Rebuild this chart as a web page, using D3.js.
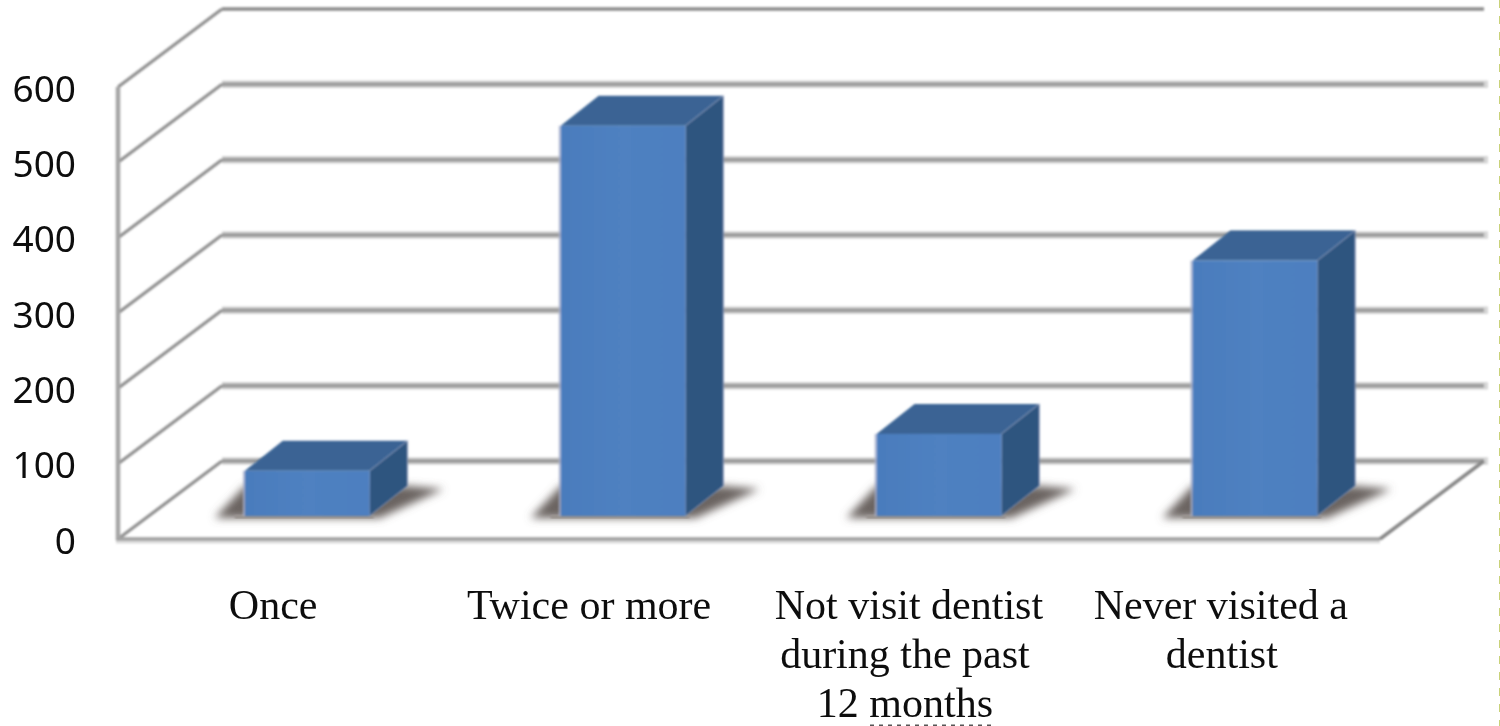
<!DOCTYPE html>
<html><head><meta charset="utf-8">
<script src="https://cdn.jsdelivr.net/npm/d3@7"></script>
<style>html,body{margin:0;padding:0;background:#fff}svg{display:block}</style>
</head><body><svg id="c" width="1500" height="726"></svg>
<script>
const categories = ["Once","Twice or more","Not visit dentist|during the past|12 months","Never visited a|dentist"];
const values = [60,518,109,339];
const ticks = [0,100,200,300,400,500,600];
const labelShift = [[-34],[-34],[-30,-34,-34],[-34,-33]];

const svg = d3.select("#c");
const defs = svg.append("defs");
defs.append("filter").attr("id","soft").append("feGaussianBlur").attr("stdDeviation",0.8);
defs.append("filter").attr("id","textSoft").append("feGaussianBlur").attr("stdDeviation",0.35);
defs.append("filter").attr("id","shadow").attr("x","-30%").attr("y","-60%").attr("width","160%").attr("height","220%")
  .append("feGaussianBlur").attr("stdDeviation",4.5);
const grad = defs.append("linearGradient").attr("id","front");
grad.append("stop").attr("offset","0").attr("stop-color","#4a7cbd");
grad.append("stop").attr("offset","0.5").attr("stop-color","#4f81c1");
grad.append("stop").attr("offset","1").attr("stop-color","#4d7fc0");

const x0=118, x1=1380, depthX=104, depthY=-78;
const y = d3.scaleLinear().domain([0,600]).range([539,87]);
const floorDY=-23;
const x = d3.scaleBand().domain(categories).range([x0+32,x1+32]).paddingInner(0.605).paddingOuter(0.3);

const grid = svg.append("g").attr("filter","url(#soft)");
ticks.forEach(t=>{
  if (t<600) grid.append("line").attr("x1",x0+depthX).attr("x2",x1+depthX+4)
    .attr("y1",y(t)+depthY).attr("y2",y(t)+depthY)
    .attr("stroke","#d6d6d6").attr("stroke-width",7.5);
  grid.append("line").attr("x1",x0+depthX).attr("x2",x1+depthX)
    .attr("y1",y(t)+depthY).attr("y2",y(t)+depthY)
    .attr("stroke",t===600?"#8a8a8a":"#9c9c9c").attr("stroke-width",t===600?3.5:4);
  grid.append("line").attr("x1",x0).attr("x2",x0+depthX)
    .attr("y1",y(t)).attr("y2",y(t)+depthY)
    .attr("stroke","#8f8f8f").attr("stroke-width",3.2);
});
grid.append("line").attr("x1",x0).attr("x2",x0).attr("y1",y(600)).attr("y2",y(0)+1)
  .attr("stroke","#a5a5a5").attr("stroke-width",4.5);
grid.append("line").attr("x1",x0-2).attr("x2",x1).attr("y1",y(0)+1.5).attr("y2",y(0)+1.5)
  .attr("stroke","#dcdcdc").attr("stroke-width",6);
grid.append("line").attr("x1",x0-2).attr("x2",x1).attr("y1",y(0)).attr("y2",y(0))
  .attr("stroke","#a0a0a0").attr("stroke-width",3.5);
grid.append("line").attr("x1",x1).attr("x2",x1+depthX).attr("y1",y(0)).attr("y2",y(0)+depthY)
  .attr("stroke","#868686").attr("stroke-width",3.5);

const barDX=38, barDY=-30;
const hgt = v => y(0)-y(v);
const bars = svg.append("g").selectAll("g").data(values).join("g")
  .attr("transform",(d,i)=>`translate(${x(categories[i])},${y(0)+floorDY})`);
const w = x.bandwidth();
bars.append("path").attr("filter","url(#shadow)").attr("fill","#6a6461")
  .attr("d",`M-30,2L${w+10},2L${w+barDX+36},-27L${w+barDX},-30L0,-30Z`);
bars.append("rect").attr("filter","url(#soft)").attr("x",-10).attr("y",-1).attr("width",w+14).attr("height",3.5).attr("fill","#98928e");
bars.append("g").attr("filter","url(#soft)").each(function(d){
  const g=d3.select(this), h=hgt(d);
  g.append("path").attr("fill","#3a6494")
    .attr("d",`M0,${-h}L${barDX},${-h+barDY}L${w+barDX},${-h+barDY}L${w},${-h}Z`);
  g.append("path").attr("fill","#2f547f").attr("stroke","#8f9fc0").attr("stroke-width",0.8)
    .attr("d",`M${w},0L${w+barDX},${barDY}L${w+barDX},${-h+barDY}L${w},${-h}Z`);
  g.append("rect").attr("x",0).attr("y",-h).attr("width",w).attr("height",h).attr("fill","url(#front)");
  g.append("line").attr("x1",-1).attr("x2",-1).attr("y1",-h).attr("y2",0).attr("stroke","#a8b0cc").attr("stroke-width",1.6);
});

svg.append("g").attr("filter","url(#textSoft)").selectAll("text").data(ticks).join("text")
  .attr("x",76).attr("y",d=>y(d)+14.5).attr("text-anchor","end")
  .attr("font-family","'Noto Sans'").attr("font-size",37).attr("fill","#0a0a0a").text(d=>d);

const labels = svg.append("g").attr("filter","url(#textSoft)").selectAll("text").data(categories).join("text")
  .attr("text-anchor","middle").attr("font-family","'Liberation Serif'").attr("font-size",42).attr("fill","#111");
labels.each(function(c,i){
  const cx = x(c)+w/2;
  d3.select(this).selectAll("tspan").data(c.split("|")).join("tspan")
    .attr("x",(l,j)=>cx+labelShift[i][j]).attr("y",(l,j)=>619+j*49).text(l=>l);
});

// scan remnants at the picture edges
svg.append("line").attr("x1",1499.5).attr("x2",1499.5).attr("y1",0).attr("y2",726)
  .attr("stroke","#c9d27a").attr("stroke-width",1).attr("stroke-dasharray","8 8");
svg.append("line").attr("x1",870).attr("x2",992).attr("y1",726).attr("y2",726)
  .attr("stroke","#555").attr("stroke-width",3).attr("stroke-dasharray","4 5");
</script></body></html>
